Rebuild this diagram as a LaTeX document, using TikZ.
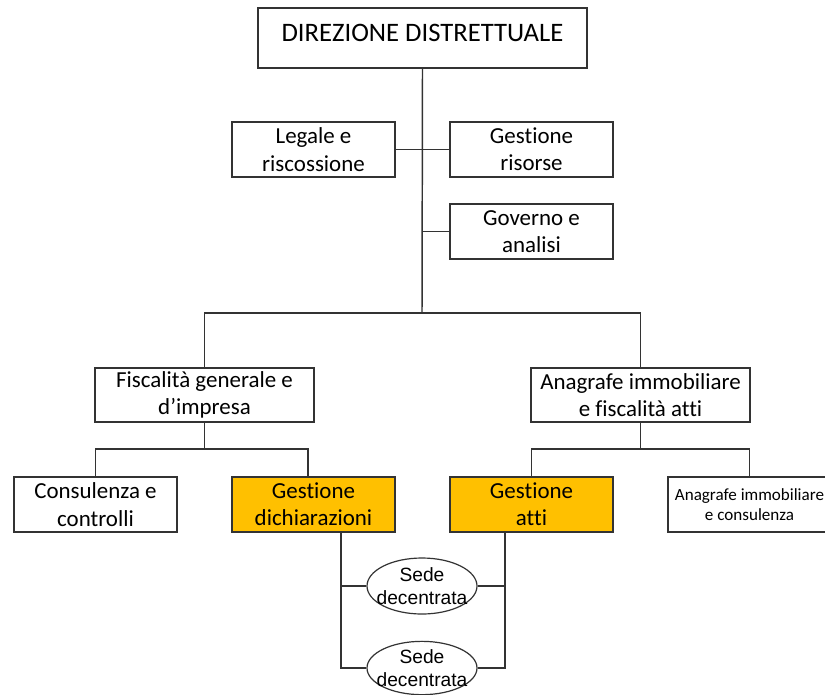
\documentclass[tikz,border=0pt]{standalone}
\usepackage{fontspec}
\setmainfont{Carlito}[Ligatures=NoCommon]
\newfontfamily\arialfont{Liberation Sans}
\usetikzlibrary{shapes.geometric}
\definecolor{linegray}{HTML}{333333}
\definecolor{orangefill}{HTML}{FFC000}
\tikzset{
  orgbox/.style={draw=linegray, line width=1.1pt, fill=white, inner sep=0pt, align=center,
    font=\fontsize{17.2}{20.5}\selectfont},
  w163/.style={minimum width=122.25pt, minimum height=41.25pt},
  w219/.style={minimum width=164.25pt, minimum height=40.5pt},
  hl/.style={fill=orangefill},
  sede/.style={draw=linegray, line width=0.9pt, ellipse, fill=white, inner xsep=-5pt, inner ysep=0pt, align=center,
    minimum width=82.5pt, minimum height=42pt, font=\arialfont\fontsize{14.4}{17.5}\selectfont},
  conn/.style={draw=linegray, line width=1.1pt}
}
\begin{document}
\begin{tikzpicture}[x=0.75pt,y=-0.75pt]
\useasboundingbox[fill=white] (0,0) rectangle (825,694);
% top
\node[orgbox, minimum width=246.75pt, minimum height=45pt] (dir) at (422.5,38) {};
\node[font=\fontsize{20}{24}\selectfont, inner sep=0pt] (dirtext) at (422.5,33) {DIREZIONE DISTRETTUALE};
% staff
\node[orgbox, w163] (legale) at (313.5,149.5) {Legale e\\riscossione};
\node[orgbox, w163] (gestris) at (531.5,149.5) {Gestione\\risorse};
\node[orgbox, w163] (governo) at (531.5,231.5) {Governo e\\analisi};
% second level
\node[orgbox, w219] (fiscalita) at (204.5,395) {Fiscalità generale e\\d’impresa};
\node[orgbox, w219] (anagrafe) at (640.5,395) {Anagrafe immobiliare\\e fiscalità atti};
% third level
\node[orgbox, w163] (consulenza) at (95.5,504.5) {Consulenza e\\controlli};
\node[orgbox, w163, hl] (gestdich) at (313.5,504.5) {Gestione\\dichiarazioni};
\node[orgbox, w163, hl] (gestatti) at (531.5,504.5) {Gestione\\atti};
\node[orgbox, w163, font=\fontsize{12.8}{15}\selectfont] (anacons) at (749.5,504.5) {Anagrafe immobiliare\\e consulenza};
% coordinates
\coordinate (bar) at (422,313);
\coordinate (lbar) at (204.5,449);
\coordinate (rbar) at (640.5,449);
\coordinate (gdn) at (308,477);
\coordinate (gd) at (341,532);
\coordinate (ga) at (505,532);
% connectors
\draw[conn] (dir.south) -- (bar);
\draw[conn] (legale.east) -- (gestris.west);
\draw[conn] (governo.west) -- (governo.west -| bar);
\draw[conn] (fiscalita.north) |- (bar) -| (anagrafe.north);
\draw[conn] (fiscalita.south) -- (lbar);
\draw[conn] (consulenza.north) |- (lbar) -| (gdn);
\draw[conn] (anagrafe.south) -- (rbar);
\draw[conn] (gestatti.north) |- (rbar) -| (anacons.north);
% sedi
\node[sede] (sede1) at (422,586) {Sede\\decentrata};
\node[sede, minimum height=40pt] (sede2) at (422,668) {Sede\\decentrata};
\draw[conn] (gd) |- (sede2.west);
\draw[conn] (sede1.west) -- (sede1.west -| gd);
\draw[conn] (ga) |- (sede2.east);
\draw[conn] (sede1.east) -- (sede1.east -| ga);
\end{tikzpicture}
\end{document}
